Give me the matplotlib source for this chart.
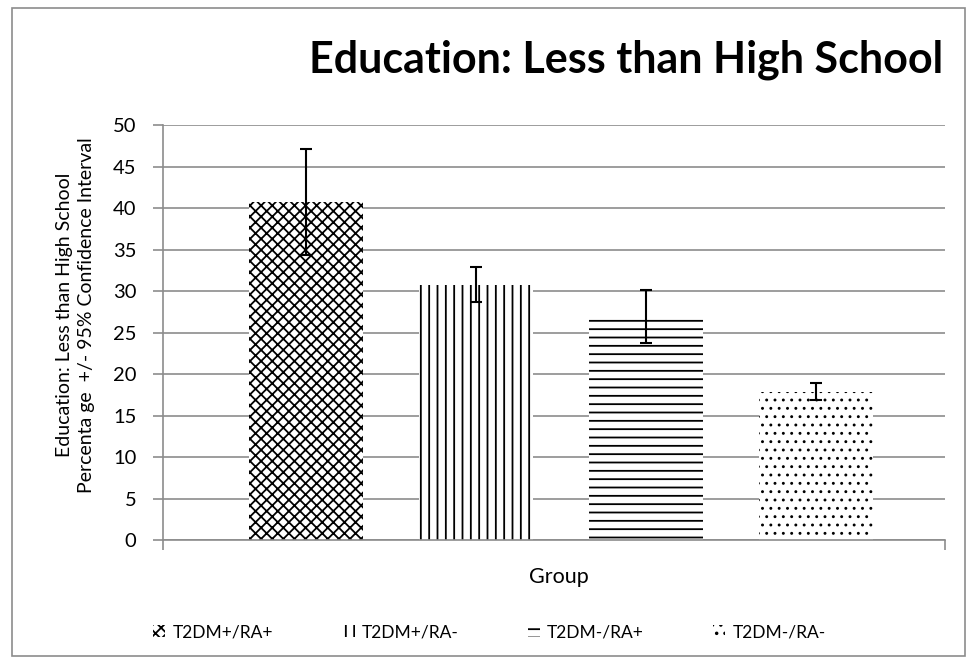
import matplotlib.pyplot as plt
from matplotlib.patches import Rectangle

plt.rcParams['font.family'] = ['Lato', 'DejaVu Sans']
plt.rcParams['hatch.linewidth'] = 1.3

groups = ["T2DM+/RA+", "T2DM+/RA-", "T2DM-/RA+", "T2DM-/RA-"]
values = [40.7, 30.8, 27.0, 17.9]
ci = [6.4, 2.15, 3.2, 1.0]
hatches = ['xxx', '||', '--', '..']

fig = plt.figure(figsize=(9.73, 6.64), dpi=100)
ax = fig.add_axes([0.1675, 0.1865, 0.8035, 0.625])

# рамка вокруг всей картинки
fig.patches.append(Rectangle((0.012, 0.012), 0.98, 0.976, transform=fig.transFigure,
                             fill=False, edgecolor='#8c8c8c', linewidth=1.2))

x = list(range(len(groups)))
for i in x:
    b = ax.bar(i, values[i], width=0.67, color='white', edgecolor='black',
               hatch=hatches[i], linewidth=0, label=groups[i])
    if hatches[i] == '..' and hasattr(b[0], 'set_hatch_linewidth'):
        b[0].set_hatch_linewidth(0.9)
    ax.errorbar(i, values[i], yerr=ci[i], fmt='none', ecolor='black',
                elinewidth=1.5, capsize=4.3, capthick=1.5)

ax.set_ylim(0, 50)
ax.set_yticks(range(0, 51, 5))
ax.set_xlim(-0.84, 3.756)
ax.set_xticks([-0.84, 3.756])
ax.set_xticklabels(['', ''])
ax.grid(axis='y', color='#8c8c8c', linewidth=1.2)
ax.set_axisbelow(True)
for s in ['top', 'right']:
    ax.spines[s].set_visible(False)
for s in ['left', 'bottom']:
    ax.spines[s].set_color('#8c8c8c')
    ax.spines[s].set_linewidth(1.2)
ax.tick_params(axis='both', color='#8c8c8c', length=7, width=1.2, labelsize=14.5)
ax.tick_params(axis='y', pad=12)

fig.text(75.5 / 973, 0.526,
         "Education: Less than High School\nPercenta ge  +/- 95% Confidence Interval",
         rotation=90, ha='center', va='center', multialignment='center',
         fontsize=14, linespacing=1.3)
fig.text(0.574, 1 - 577 / 664, "Group", ha='center', va='center', fontsize=15.5)

fig.text(943 / 973, 1 - 72 / 664, "Education: Less than High School", ha='right',
         va='baseline', fontsize=31, fontweight='bold')

fig.legend(loc='center', bbox_to_anchor=(0.503, 0.048), ncol=4, frameon=False,
           fontsize=12.5, handlelength=0.7, handleheight=0.7, columnspacing=4.0,
           handletextpad=0.4)

plt.savefig('out.png', dpi=100)
